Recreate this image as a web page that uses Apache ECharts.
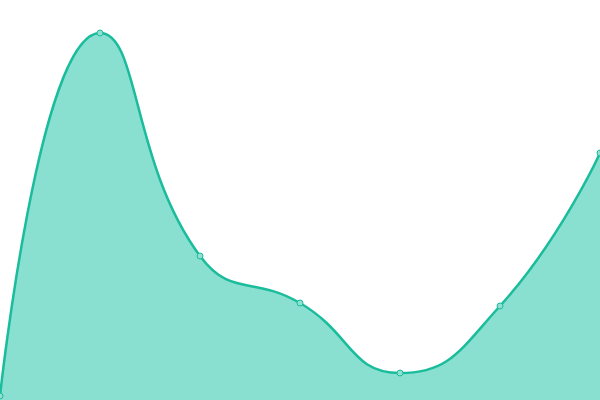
<!DOCTYPE html>
<html>
<head>
<meta charset="utf-8">
<script src="https://cdn.jsdelivr.net/npm/echarts@6/dist/echarts.min.js"></script>
<style>
html, body { margin: 0; padding: 0; background: #fff; }
#chart { width: 600px; height: 400px; }
</style>
</head>
<body>
<div id="chart"></div>
<script>
// categories and values
var categories = ['A', 'B', 'C', 'D', 'E', 'F', 'G'];
var values = [4, 367, 144, 97, 27, 94, 247];

// smooth area chart, no axes
echarts.init(document.getElementById('chart')).setOption({
    animation: false,
    grid: { left: 0, right: 0, top: 0, bottom: 0 },
    xAxis: {
        type: 'category',
        data: categories,
        boundaryGap: false,
        show: false
    },
    yAxis: {
        type: 'value',
        min: 0,
        max: 400,
        show: false
    },
    series: {
        type: 'line',
        data: values,
        smooth: true,
        symbol: 'circle',
        symbolSize: 6,
        lineStyle: { color: '#1abc9c', width: 2.5 },
        itemStyle: { color: '#8fe0d1', borderColor: '#1abc9c', borderWidth: 1 },
        areaStyle: { color: '#8ae0d0', opacity: 1 }
    }
});
</script>
</body>
</html>
